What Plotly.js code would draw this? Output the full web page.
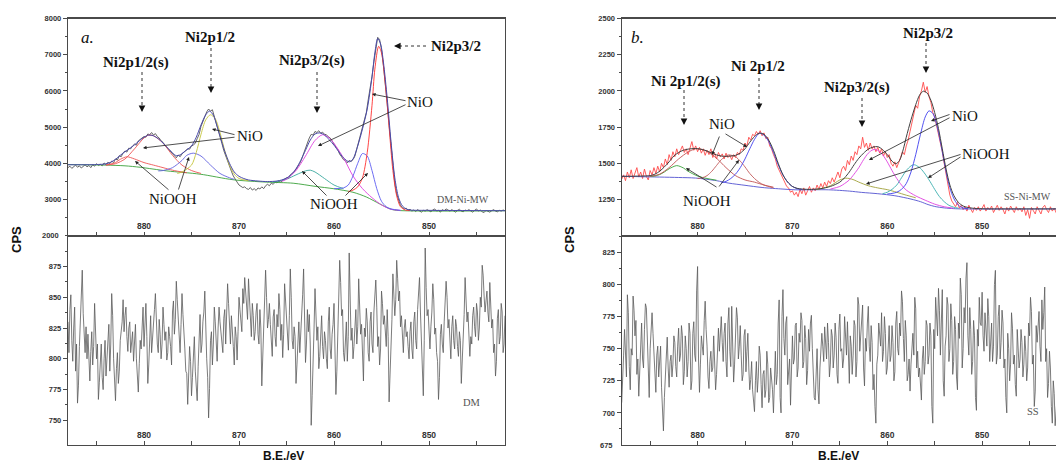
<!DOCTYPE html>
<html>
<head>
<meta charset="utf-8">
<script src="https://cdn.plot.ly/plotly-3.0.1.min.js"></script>
<style>
html,body{margin:0;padding:0;overflow:hidden;background:#fff;}
#chart{width:1060px;height:462px;}
</style>
</head>
<body>
<div id="chart"></div>
<script>
// ---------- DATA ----------
// energy grid of the measured spectra (B.E., eV), high -> low
const E_START = 888.0;
const E_STEP = 0.2;

// Panel a (DM-Ni-MW) measured counts
const RAW_A = [3880,3920,3860,3900,3950,3890,3930,3870,3910,3960,
 3900,3940,3880,3960,3920,3990,3940,3970,3930,4010,
 3960,4030,3990,4060,4020,4120,4090,4210,4180,4290,
 4340,4310,4420,4400,4480,4530,4500,4620,4660,4700,
 4740,4720,4810,4790,4850,4780,4820,4740,4700,4620,
 4580,4500,4440,4380,4300,4250,4200,4150,4230,4180,
 4260,4300,4350,4400,4390,4480,4500,4560,4680,4800,
 5020,5150,5300,5420,5500,5440,5480,5300,5150,4950,
 4750,4550,4350,4200,4020,3900,3780,3650,3550,3480,
 3400,3370,3330,3350,3300,3280,3330,3260,3300,3250,
 3320,3290,3350,3300,3380,3420,3380,3450,3420,3480,
 3460,3510,3480,3530,3560,3600,3580,3680,3720,3760,
 3830,3900,4000,4120,4250,4400,4560,4700,4800,4780,
 4880,4850,4900,4830,4860,4800,4790,4730,4700,4620,
 4520,4450,4380,4250,4180,4100,4070,4010,4080,4050,
 4100,4200,4400,4600,4800,4950,5200,5400,5750,6050,
 6400,6800,7150,7480,7420,7150,6700,6250,5650,5050,
 4450,3850,3450,3150,2950,2830,2780,2740,2760,2700,
 2730,2680,2710,2670,2720,2690,2650,2700,2680,2720,
 2690,2660,2710,2740,2680,2700,2650,2720,2690,2740,
 2710,2680,2720,2690,2650,2700,2730,2680,2660,2710,
 2690,2720,2680,2650,2700,2740,2680,2710,2660,2640,
 2700,2670,2650,2690,2720,2680,2660,2700,2680,2710,
 2690];

// Panel a fit envelope
const ENV_A_E = [888,886,885,884,883.5,883,882.5,882,881.5,881,880.5,880,879.5,879,878.5,878,877.5,877,876.6,876.2,876,875.5,875,874.5,874,873.5,873.1,872.7,872.3,872,871.5,871,870.5,870,869.5,869,868,867,866,865.5,865,864.5,864,863.5,863,862.5,862,861.5,861,860.5,860,859.5,859,858.4,858,857.5,857,856.5,856,855.7,855.4,855.1,854.8,854.4,854,853.6,853.2,852.8,852.4,852,850,846,842];
const ENV_A = [3960,3960,3965,3985,4030,4110,4220,4320,4410,4510,4620,4720,4780,4760,4680,4560,4420,4290,4210,4230,4270,4370,4480,4720,5060,5340,5440,5330,5020,4760,4330,4000,3760,3640,3580,3540,3510,3495,3510,3540,3590,3690,3850,4080,4360,4640,4810,4840,4780,4650,4500,4320,4150,4040,4120,4480,4950,5500,6380,7050,7450,7300,6800,5800,4600,3600,3050,2820,2740,2710,2700,2695,2690];

// Panel a background
const BG_A_E = [888,884,882,880.4,877.6,874.1,870.6,867.1,864.3,861.9,860.1,858,856.6,855.2,854.1,853.4,842];
const BG_A = [3965,3950,3930,3890,3790,3700,3545,3480,3450,3360,3300,3200,3070,2880,2740,2700,2690];

// Panel a components
const A1_E = [884,883,882.5,881.8,881,880,879,878,877,876,875.5];             // NiOOH (2p1/2 sat side)
const A1 = [3950,4020,4110,4180,4120,4020,3950,3880,3810,3760,3740];
const A2_E = [884,883,882,881,880,879.5,879,878,877,876,875,874];             // NiO satellite 2p1/2
const A2 = [3950,3990,4120,4400,4700,4780,4760,4560,4220,3950,3800,3720];
const A3_E = [878.5,878,877,876,875.5,874.8,874,873,872,871,870.5];           // NiOOH 2p1/2
const A3 = [3790,3800,3880,4080,4220,4280,4200,3950,3720,3600,3555];
const A4_E = [876.5,876,875,874.5,874,873.5,873,872.5,872,871.5,871,870.5,870,869]; // NiO 2p1/2
const A4 = [3720,3760,3950,4300,4800,5200,5340,5230,4850,4350,3950,3700,3580,3520];
const A5_E = [866.5,866,865,864,863,862.5,862,861,860,859];                   // NiOOH 2p3/2 sat
const A5 = [3480,3500,3560,3680,3790,3810,3760,3580,3400,3300];
const A6_E = [865.5,865,864,863,862,861.2,860.5,860,859,858,857,856,855,854,853]; // NiO 2p3/2 sat
const A6 = [3500,3560,3800,4200,4630,4790,4700,4550,4150,3650,3300,3050,2850,2730,2700];
const A7_E = [860,859,858.5,858,857.5,857,856.5,856,855.5,855,854.5,854,853];  // NiOOH 2p3/2
const A7 = [3300,3320,3400,3650,4000,4270,4200,3800,3300,2950,2800,2740,2700];
const A8_E = [858.5,858,857.5,857,856.5,856,855.7,855.3,855,854.6,854.2,853.8,853.4,853,852.5,852]; // NiO 2p3/2
const A8 = [3220,3260,3350,3600,4300,5600,6600,7230,7050,6200,5000,3800,3100,2800,2710,2695];

// Panel a lower: DM (values on the 0.2 eV grid, and the readings between them)
const DM = [830,840,815,825,790,764,810,863,837,805,
 800,798,806,795,845,800,767,795,785,800,
 786,810,790,853,800,766,805,790,825,848,
 835,818,825,805,822,812,800,773,815,832,
 810,845,780,825,805,830,853,812,832,800,
 842,815,799,826,810,838,820,863,830,805,
 853,815,790,763,810,770,805,790,766,823,
 805,830,855,800,752,815,795,842,810,825,
 830,815,833,812,861,820,835,810,826,799,
 850,830,857,866,840,865,825,845,815,838,
 820,840,778,830,872,825,845,810,834,818,
 836,853,815,801,861,832,807,873,815,826,
 780,820,805,840,873,797,840,836,746,810,
 857,815,792,825,810,822,800,830,808,820,
 845,771,826,880,835,805,820,798,886,815,
 800,830,812,865,820,795,825,841,805,830,
 812,838,864,810,795,855,828,815,840,765,
 820,869,835,880,847,826,812,825,818,810,
 822,808,830,815,840,866,815,770,890,835,
 815,826,861,820,805,767,820,812,830,863,
 825,807,826,815,832,810,822,780,820,866,
 830,810,818,835,826,845,815,850,876,851,
 847,838,862,825,805,786,833,812,845,805,
 835];
const DM_MID = [805,852,798,842,812,778,832,872,818,826,
 820,782,822,810,828,812,781,812,775,815,
 800,828,812,835,785,792,780,815,830,822,
 842,806,830,812,798,828,788,796,808,842,
 825,818,795,835,815,840,830,805,820,812,
 828,822,805,818,795,847,832,848,815,828,
 836,808,788,780,798,785,818,781,794,836,
 812,838,822,785,776,822,812,830,798,842,
 820,805,840,830,845,812,826,795,818,822,
 840,822,845,855,832,848,818,835,822,845,
 812,825,800,845,850,832,828,802,840,810,
 826,840,828,820,848,822,835,850,808,818,
 795,830,818,852,835,812,822,812,770,825,
 840,826,802,835,800,815,792,842,800,828,
 818,790,845,862,840,798,830,818,855,825,
 810,840,826,848,828,782,818,830,798,838,
 805,848,842,818,808,845,835,810,818,785,
 832,855,848,865,855,835,805,832,822,800,
 830,800,838,808,850,838,808,815,858,840,
 808,838,848,825,798,785,828,805,842,850,
 832,800,835,808,826,802,815,795,836,852,
 838,802,812,842,818,838,825,842,868,838,
 855,830,848,832,812,798,840,818,838,812];

// Panel b (SS-Ni-MW) measured counts
const RAW_B = [1390,1420,1380,1440,1400,1455,1395,1430,1470,1405,
 1440,1395,1460,1410,1385,1450,1420,1470,1430,1480,
 1440,1500,1470,1530,1490,1560,1520,1580,1545,1600,
 1560,1590,1620,1575,1600,1560,1610,1650,1590,1620,
 1580,1610,1570,1600,1555,1590,1560,1600,1540,1570,
 1530,1575,1545,1565,1530,1570,1540,1555,1525,1560,
 1540,1575,1560,1600,1590,1640,1620,1680,1660,1700,
 1690,1720,1700,1725,1690,1710,1670,1680,1620,1600,
 1560,1530,1480,1450,1420,1400,1370,1340,1330,1300,
 1310,1280,1300,1270,1320,1290,1330,1280,1310,1340,
 1300,1330,1310,1350,1320,1360,1330,1370,1340,1380,
 1360,1400,1370,1410,1440,1400,1460,1480,1450,1520,
 1490,1550,1520,1580,1560,1620,1600,1680,1610,1640,
 1590,1640,1600,1620,1580,1610,1570,1600,1550,1580,
 1540,1560,1500,1480,1510,1470,1500,1540,1580,1560,
 1620,1660,1720,1780,1850,1900,1880,1960,2000,2060,
 1990,2030,1960,1920,1850,1820,1760,1700,1650,1580,
 1500,1420,1330,1280,1240,1220,1200,1230,1190,1210,
 1180,1200,1170,1210,1185,1160,1195,1175,1200,1170,
 1190,1215,1170,1195,1180,1205,1160,1190,1210,1175,
 1200,1180,1150,1195,1170,1205,1185,1160,1200,1175,
 1190,1165,1200,1140,1180,1120,1195,1170,1150,1200,
 1175,1150,1195,1210,1180,1160,1200,1170,1190,1160,
 1180];

// Panel b fit envelope
const ENV_B_E = [888,886,885,884.5,884,883.5,883,882.5,882,881.5,881,880.2,879.5,879,878.5,878,877.5,877,876.5,876,875.5,875,874.5,874,873.5,873,872.5,872,871.5,871,870.5,870,869.5,869,868,867,866,865,864.5,864,863.5,863,862.5,862,861.5,861,860.5,860,859.5,859.1,858.7,858.3,858,857.5,857,856.6,856.2,855.8,855.4,855,854.6,854.2,853.8,853.4,853,852.5,852,851.5,851,850,846,842];
const ENV_B = [1410,1412,1415,1425,1445,1475,1510,1550,1575,1590,1598,1602,1595,1585,1570,1558,1550,1548,1550,1555,1570,1600,1645,1685,1708,1700,1660,1590,1500,1420,1370,1340,1327,1322,1320,1325,1340,1370,1400,1440,1490,1535,1570,1598,1612,1615,1595,1560,1515,1497,1520,1600,1680,1800,1905,1970,1998,1985,1935,1850,1740,1600,1460,1350,1280,1230,1205,1195,1190,1186,1185,1185];

// Panel b background
const BG_B_E = [888,884,882,880.2,878,876.7,875,873.2,871,869.7,866.2,864,862.7,861,859.2,857.5,856.5,855.7,855,854,853,852.2,842];
const BG_B = [1410,1405,1402,1398,1380,1363,1348,1333,1322,1317,1317,1308,1299,1290,1276,1253,1235,1215,1202,1192,1187,1185,1185];

// Panel b components
const B1_E = [885,884.5,884,883.5,883,882.2,881.5,881,880,879,878];           // NiOOH
const B1 = [1410,1412,1422,1440,1462,1484,1468,1445,1412,1395,1383];
const B2_E = [885,884,883,882,881,880.2,879.5,879,878,877,876,875,874,873,872]; // NiO satellite
const B2 = [1410,1425,1470,1530,1578,1600,1595,1582,1535,1470,1415,1385,1370,1350,1335];
const B3_E = [880,879.5,879,878.5,878,877.5,877,876.7,876,875.5,875,874.5,874,873.5,873,872]; // NiOOH
const B3 = [1395,1400,1415,1445,1485,1525,1550,1558,1545,1515,1475,1430,1395,1368,1350,1330];
const B4_E = [877.5,877,876.5,876,875.5,875,874.5,874,873.5,873,872.5,872,871.5,871,870.5,870,869.5,869]; // NiO 2p1/2
const B4 = [1365,1375,1395,1425,1470,1530,1600,1665,1708,1695,1650,1575,1490,1420,1370,1340,1325,1320];
const B5_E = [867.5,867,866,865.5,865,864.4,864,863.5,863,862,861,860,859,858,857]; // NiOOH 2p3/2 sat
const B5 = [1320,1325,1345,1365,1385,1397,1395,1385,1370,1345,1330,1318,1300,1280,1262];
const B6_E = [866,865,864.5,864,863.5,863,862.5,862,861.5,861,860.5,860,859.5,859,858.5,858,857,856,855,854,853]; // NiO 2p3/2 sat
const B6 = [1322,1340,1360,1385,1425,1470,1525,1570,1594,1590,1560,1510,1450,1395,1350,1315,1275,1245,1218,1200,1190];
const B7_E = [860.5,860,859.5,859,858.5,858,857.5,857.2,857,856.5,856,855.5,855,854.5,854,853.5,853,852.5]; // NiOOH 2p3/2
const B7 = [1290,1300,1320,1350,1400,1450,1482,1490,1487,1465,1425,1375,1320,1270,1235,1210,1197,1190];
const B8_E = [860,859.5,859,858.5,858,857.5,857,856.5,856,855.6,855.2,854.8,854.4,854,853.6,853.2,852.8,852.4,852,851.5]; // NiO 2p3/2
const B8 = [1288,1292,1300,1320,1360,1440,1560,1700,1820,1862,1845,1770,1650,1510,1380,1290,1235,1205,1192,1187];

// Panel b lower: SS (values on the 0.2 eV grid, and the readings between them)
const SS = [708,745,740,792,736,750,791,760,730,713,
 748,742,765,782,721,750,778,745,716,752,
 740,720,686,725,759,720,745,738,755,728,
 766,745,760,732,750,740,762,725,771,740,
 814,716,760,745,787,752,719,748,735,744,
 730,766,760,755,762,740,770,748,783,724,
 760,774,752,745,730,765,748,735,726,718,
 701,740,728,745,704,733,718,738,712,725,
 700,748,730,788,700,796,745,775,738,706,
 760,742,770,735,755,772,740,758,733,748,
 776,735,710,750,707,745,752,767,742,755,
 738,760,745,759,723,777,750,742,760,771,
 723,752,745,768,740,784,760,784,721,748,
 783,740,755,730,692,745,760,778,748,762,
 735,768,745,755,732,779,745,760,787,740,
 760,730,717,752,745,781,748,735,710,752,
 740,768,745,760,692,750,775,797,745,796,
 713,760,784,750,772,740,765,718,758,792,
 750,770,817,745,765,740,760,702,752,770,
 794,748,765,789,740,770,752,811,745,784,
 755,770,742,700,750,738,766,745,713,750,
 742,755,738,748,735,760,779,745,717,755,
 779,740,765,798,750,723,735,692,715,700,
 690];
const SS_MID = [722,765,728,778,718,745,780,772,742,730,
 770,735,785,755,712,772,762,725,745,728,
 752,705,712,748,735,740,728,760,736,752,
 740,768,722,760,728,770,718,762,745,795,
 742,738,752,772,765,728,740,732,760,718,
 752,748,775,740,770,728,782,736,760,738,
 782,742,768,725,760,732,762,718,740,710,
 725,716,752,722,730,712,748,708,735,718,
 735,722,770,712,775,758,770,722,742,732,
 738,768,728,762,778,735,768,722,765,770,
 750,712,738,718,735,762,740,756,770,728,
 765,735,770,730,765,748,735,775,745,738,
 760,730,772,728,790,748,772,735,758,770,
 752,768,718,705,738,770,752,740,775,730,
 762,740,768,725,770,750,770,795,758,772,
 725,742,738,762,790,735,728,722,742,730,
 772,738,770,705,765,790,760,780,768,725,
 752,790,740,785,730,775,728,770,805,735,
 782,805,760,782,730,772,712,765,790,768,
 760,778,752,775,762,740,800,738,775,742,
 780,735,712,762,725,778,738,722,765,735,
 765,728,760,725,770,790,738,705,768,772,
 752,788,778,740,712,748,705,725,690,712];

// axis ticks
const X_TICKS = [885,880,875,870,865,860,855,850,845];
const X_TICKTEXT = ['','880','','870','','860','','850',''];
const YA_TICKS = [2000,3000,4000,5000,6000,7000,8000];
const YA2_TICKS = [750,775,800,825,850,875];
const YB_TICKS = [1250,1500,1750,2000,2250,2500];
const YB2_TICKS = [675,700,725,750,775,800,825];

// ---------- FIGURE ----------
const W = 1060, H = 462;
const grid = RAW_A.map((_, i) => +(E_START - i * E_STEP).toFixed(2));
// merge grid readings with the readings lying between them
function merge(main, mid) {
  const xs = [], ys = [];
  main.forEach((v, i) => {
    xs.push(grid[i]); ys.push(v);
    if (i < mid.length) { xs.push(+(grid[i] - E_STEP / 2).toFixed(2)); ys.push(mid[i]); }
  });
  return [xs, ys];
}
const [dmX, dmY] = merge(DM, DM_MID);
const [ssX, ssY] = merge(SS, SS_MID);

function ln(x, y, color, w, xa, ya, shape) {
  return {type:'scatter', mode:'lines', x:x, y:y, xaxis:xa, yaxis:ya,
    line:{color:color, width:w, shape:shape||'linear', smoothing:0.8}, hoverinfo:'skip', showlegend:false};
}
const traces = [
  // panel a top
  ln(grid, RAW_A, '#555555', 0.9, 'x', 'y'),
  ln(BG_A_E, BG_A, '#3aa23a', 0.9, 'x', 'y', 'spline'),
  ln(A1_E, A1, '#ee5555', 0.9, 'x', 'y', 'spline'),
  ln(A2_E, A2, '#ee5555', 0.9, 'x', 'y', 'spline'),
  ln(A3_E, A3, '#6262e0', 0.9, 'x', 'y', 'spline'),
  ln(A4_E, A4, '#c4c43a', 0.9, 'x', 'y', 'spline'),
  ln(A5_E, A5, '#3aa89e', 0.9, 'x', 'y', 'spline'),
  ln(A6_E, A6, '#e040e0', 0.9, 'x', 'y', 'spline'),
  ln(A7_E, A7, '#5c5cf0', 0.9, 'x', 'y', 'spline'),
  ln(A8_E, A8, '#ff3030', 0.9, 'x', 'y', 'spline'),
  ln(ENV_A_E, ENV_A, '#4a4aaa', 1.0, 'x', 'y', 'spline'),
  // panel a bottom
  ln(dmX, dmY, '#5a5a5a', 0.8, 'x2', 'y2'),
  // panel b top
  ln(grid, RAW_B, '#ff4c4c', 0.9, 'x3', 'y3'),
  ln(BG_B_E, BG_B, '#5252d0', 0.9, 'x3', 'y3', 'spline'),
  ln(B1_E, B1, '#3aa23a', 0.9, 'x3', 'y3', 'spline'),
  ln(B2_E, B2, '#c25050', 0.9, 'x3', 'y3', 'spline'),
  ln(B3_E, B3, '#c25a5a', 0.9, 'x3', 'y3', 'spline'),
  ln(B4_E, B4, '#4040ee', 0.9, 'x3', 'y3', 'spline'),
  ln(B5_E, B5, '#a0a03a', 0.9, 'x3', 'y3', 'spline'),
  ln(B6_E, B6, '#e040e0', 0.9, 'x3', 'y3', 'spline'),
  ln(B7_E, B7, '#3aaeae', 0.9, 'x3', 'y3', 'spline'),
  ln(B8_E, B8, '#4040ee', 0.9, 'x3', 'y3', 'spline'),
  ln(ENV_B_E, ENV_B, '#404040', 1.0, 'x3', 'y3', 'spline'),
  // panel b bottom
  ln(ssX, ssY, '#5a5a5a', 0.8, 'x4', 'y4')
];

const LX = [68 / W, 505 / W];
const RX = [621.7 / W, 1058 / W];
const TOPD = [1 - 235.7 / H, 1 - 18.5 / H];
const BOTD = [1 - 445 / H, 1 - 235.7 / H];

const tickFont = {family:'Liberation Sans, Arial, sans-serif', size:8.5, color:'#333', weight:'bold'};
const yTickFont = Object.assign({}, tickFont, {size:7.5});
function xax(dom, anchor) {
  return {domain:dom, anchor:anchor, range:[888, 842], showline:true, mirror:true, linecolor:'#4a4a4a', linewidth:1.2,
    ticks:'inside', ticklen:4, tickcolor:'#4a4a4a', tickmode:'array', tickvals:X_TICKS, ticktext:X_TICKTEXT,
    ticklabelposition:'inside', tickfont:tickFont, showgrid:false, zeroline:false, fixedrange:true};
}
function yax(dom, anchor, range, vals, minorStep, minor0) {
  return {domain:dom, anchor:anchor, range:range, showline:true, mirror:true, linecolor:'#4a4a4a', linewidth:1.2,
    ticks:'outside', ticklen:4, tickcolor:'#4a4a4a', tickmode:'array', tickvals:vals,
    minor:{tickmode:'linear', tick0:minor0, dtick:minorStep, ticks:'outside', ticklen:2, tickcolor:'#4a4a4a'},
    tickfont:yTickFont, showgrid:false, zeroline:false, fixedrange:true};
}

const px = x => x / W, py = y => 1 - y / H;
const serif = 'Liberation Serif, Times New Roman, serif';
const annotations = [];
function txt(t, x, y, size, opts) {
  annotations.push(Object.assign({text:t, x:px(x), y:py(y), xref:'paper', yref:'paper', showarrow:false,
    xanchor:'center', yanchor:'middle', font:{family:serif, size:size, color:'#111'}}, opts || {}));
}
function arrow(x0, y0, x1, y1) {
  annotations.push({text:'', x:px(x1), y:py(y1), xref:'paper', yref:'paper', showarrow:true,
    ax:x0 - x1, ay:y0 - y1, axref:'pixel', ayref:'pixel', arrowhead:2, arrowsize:0.9, arrowwidth:0.8,
    arrowcolor:'#222', standoff:0, startstandoff:0});
}
const shapes = [];
function dotted(x0, y0, x1, y1) {
  const dx = x1 - x0, dy = y1 - y0, L = Math.hypot(dx, dy);
  const hx = x1 - dx / L * 6, hy = y1 - dy / L * 6;
  shapes.push({type:'line', xref:'paper', yref:'paper', x0:px(x0), y0:py(y0), x1:px(hx), y1:py(hy),
    line:{color:'#333', width:1, dash:'dot'}});
  annotations.push({text:'', x:px(x1), y:py(y1), xref:'paper', yref:'paper', showarrow:true,
    ax:-dx / L * 7, ay:-dy / L * 7, axref:'pixel', ayref:'pixel', arrowhead:2, arrowsize:1.1, arrowwidth:1.2,
    arrowcolor:'#111', standoff:0});
}

const bold = {font:{family:serif, size:15, color:'#111', weight:'bold'}};
// panel a
txt('a.', 87, 38, 17, {font:{family:serif, size:17, color:'#111', style:'italic'}});
txt('Ni2p1/2(s)', 136, 62, 15, bold);
txt('Ni2p1/2', 210, 37, 15, bold);
txt('Ni2p3/2(s)', 312, 60, 15, bold);
txt('Ni2p3/2', 456, 46, 15, bold);
dotted(142, 72, 142, 112);
dotted(211, 48, 211, 93);
dotted(317, 72, 317, 113);
dotted(426, 46, 394, 46);
txt('NiO', 250, 136, 15);
txt('NiO', 420, 102, 15);
txt('NiOOH', 173, 199, 15);
txt('NiOOH', 334, 204, 15);
arrow(236, 137, 143, 148); arrow(236, 135, 212, 129);
arrow(407, 101, 372, 94); arrow(407, 104, 318, 146);
arrow(170, 191, 135, 161); arrow(178, 191, 189, 157);
arrow(328, 197, 302, 171); arrow(344, 197, 368, 173);
txt('DM-Ni-MW', 463, 199, 10, {font:{family:serif, size:10, color:'#555'}});
txt('DM', 472, 402, 10.5, {font:{family:serif, size:10.5, color:'#555'}});
// panel b
txt('b.', 637, 37, 17, {font:{family:serif, size:17, color:'#111', style:'italic'}});
txt('Ni 2p1/2(s)', 686, 81, 15, bold);
txt('Ni 2p1/2', 758, 66, 15, bold);
txt('Ni2p3/2(s)', 857, 87, 15, bold);
txt('Ni2p3/2', 928, 33, 15, bold);
dotted(684, 90, 684, 125);
dotted(759, 78, 759, 110);
dotted(862, 98, 862, 127);
dotted(926, 43, 926, 73);
txt('NiO', 722, 124, 15);
txt('NiOOH', 707, 201, 15);
txt('NiO', 965, 116, 15);
txt('NiOOH', 986, 154, 15);
arrow(720, 135, 712, 155); arrow(724, 133, 747, 147);
arrow(718, 188, 686, 168); arrow(718, 188, 739, 160);
arrow(951, 114, 931, 121); arrow(951, 117, 869, 160);
arrow(962, 154, 866, 184); arrow(962, 156, 928, 178);
txt('SS-Ni-MW', 1027, 196, 10, {font:{family:serif, size:10, color:'#555'}});
txt('SS', 1033, 411, 10.5, {font:{family:serif, size:10.5, color:'#555'}});
// axis titles
const sansB = {family:'Liberation Sans, Arial, sans-serif', size:12, color:'#111', weight:'bold'};
txt('CPS', 17, 240, 12, {font:Object.assign({}, sansB, {size:13}), textangle:-90});
txt('CPS', 570, 240, 12, {font:Object.assign({}, sansB, {size:13}), textangle:-90});
txt('B.E./eV', 283, 456, 12, {font:sansB});
txt('B.E./eV', 838, 456, 12, {font:sansB});
// lowest y tick labels (Plotly hides these where they meet the x axis line with inside labels)
txt(String(YA_TICKS[0]), 61, 235.7, 7.5, {xanchor:'right', font:yTickFont});
txt(String(YB2_TICKS[0]), 615, 445, 7.5, {xanchor:'right', font:yTickFont});

const layout = {
  width:W, height:H, margin:{l:0, r:0, t:0, b:0}, paper_bgcolor:'#fff', plot_bgcolor:'#fff', showlegend:false,
  xaxis:xax(LX, 'y'), xaxis2:xax(LX, 'y2'), xaxis3:xax(RX, 'y3'), xaxis4:xax(RX, 'y4'),
  yaxis:yax(TOPD, 'x', [2000, 8000], YA_TICKS, 500, 2000),
  yaxis2:yax(BOTD, 'x2', [730, 900], YA2_TICKS, 12.5, 750),
  yaxis3:yax(TOPD, 'x3', [1000, 2500], YB_TICKS, 125, 1000),
  yaxis4:yax(BOTD, 'x4', [675, 838], YB2_TICKS, 12.5, 675),
  annotations:annotations, shapes:shapes
};
Plotly.newPlot('chart', traces, layout, {staticPlot:true, displayModeBar:false});
</script>
</body>
</html>
